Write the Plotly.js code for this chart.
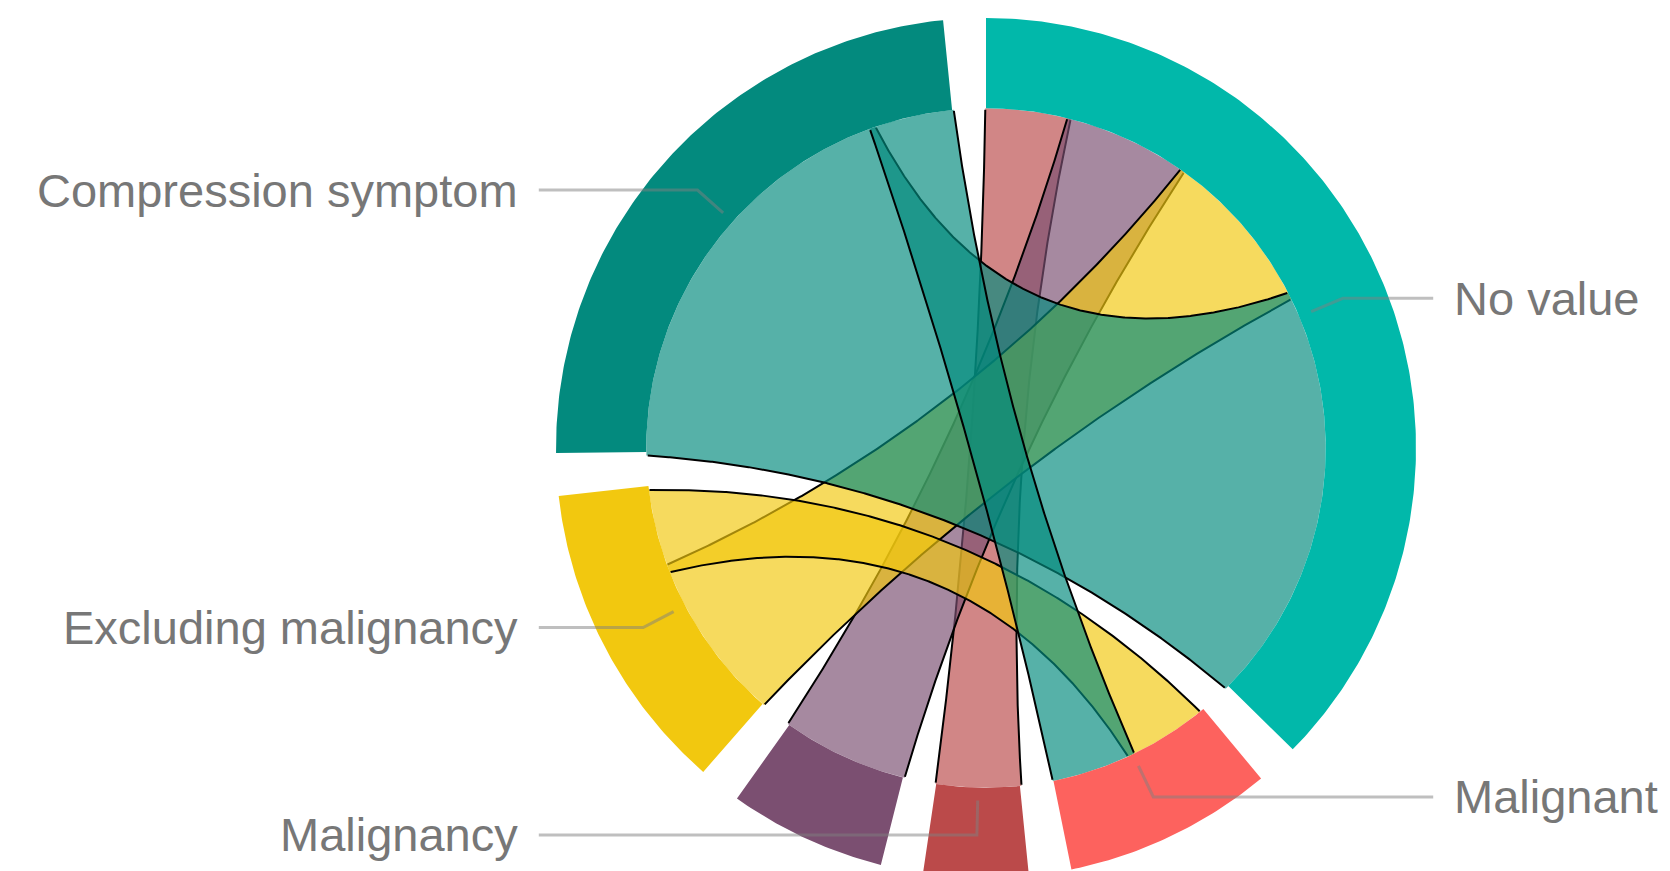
<!DOCTYPE html>
<html><head><meta charset="utf-8">
<script src="https://cdn.plot.ly/plotly-3.0.1.min.js"></script>
<style>html,body{margin:0;padding:0;background:#fff;overflow:hidden}#chart{width:1670px;height:871px}</style>
</head><body><div id="chart"></div>
<script>
// ---- data ----
const nodes = ["No value", "Malignant", "Malignancy", "Other", "Excluding malignancy", "Compression symptom"];
const linkSources = ["Malignancy", "Other", "Excluding malignancy", "Excluding malignancy", "Compression symptom", "Compression symptom"];
const linkTargets = ["No value", "No value", "No value", "Malignant", "No value", "Malignant"];
const linkValues = [4, 6, 8, 4, 20, 4];

// ---- styles ----
const palette = ["#01B8AA", "#FD625E", "#BB4A4A", "#7B4F71", "#F2C80F", "#038A7E"];
const RIBBON_OPACITY = 0.67;
const R_OUT = 1, R_IN = 0.79, PAD = 0.1;
const LABEL_FONT = 47;
const PX = 430, CX = 986, CY = 448, W = 1670, H = 871;

function hexToRgba(h, a) {
  const r = parseInt(h.slice(1,3),16), g = parseInt(h.slice(3,5),16), b = parseInt(h.slice(5,7),16);
  return `rgba(${r},${g},${b},${a})`;
}
const pt = (r, a) => [r * Math.sin(a), r * Math.cos(a)];
const ang = p => Math.atan2(p[0], p[1]);
function arc(r, a0, a1) {
  const n = Math.max(2, Math.ceil(Math.abs(a1 - a0) / 0.01));
  const out = [];
  for (let k = 0; k <= n; k++) out.push(pt(r, a0 + (a1 - a0) * k / n));
  return out;
}
// quadratic curve through the centre between two points of the outer circle,
// keeping only the part that lies inside the inner circle
function bezInside(A, B) {
  const out = [];
  const N = 600;
  for (let k = 0; k <= N; k++) {
    const t = k / N, u = 1 - t;
    const p = [u*u*A[0] + t*t*B[0], u*u*A[1] + t*t*B[1]];
    if (Math.hypot(p[0], p[1]) <= R_IN) out.push(p);
  }
  return out;
}
function unwrap(a0, a1) {
  let d = a1 - a0;
  while (d > Math.PI) d -= 2 * Math.PI;
  while (d < -Math.PI) d += 2 * Math.PI;
  return a0 + d;
}

// ---- chord layout ----
const idx = Object.fromEntries(nodes.map((n, i) => [n, i]));
const n = nodes.length;
const M = Array.from({length: n}, () => Array(n).fill(0));
linkSources.forEach((s, k) => {
  const i = idx[s], j = idx[linkTargets[k]];
  M[i][j] += linkValues[k]; M[j][i] += linkValues[k];
});
const groupVals = M.map(r => r.reduce((a, b) => a + b, 0));
const total = groupVals.reduce((a, b) => a + b, 0);
const kScale = (2 * Math.PI - PAD * n) / total;
const groups = [], sub = {};
let cur = 0;
for (let i = 0; i < n; i++) {
  const gs = cur;
  for (let j = 0; j < n; j++) {
    sub[i + '-' + j] = [cur, cur + M[i][j] * kScale];
    cur += M[i][j] * kScale;
  }
  groups.push([gs, cur]);
  cur += PAD;
}

const traces = [];
// ribbons
linkSources.forEach((s, k) => {
  const i = idx[s], j = idx[linkTargets[k]];
  const [s0, s1] = sub[i + '-' + j];
  const [t0, t1] = sub[j + '-' + i];
  const c1 = bezInside(pt(R_OUT, s1), pt(R_OUT, t0));
  const c2 = bezInside(pt(R_OUT, t1), pt(R_OUT, s0));
  const aS0 = ang(c2[c2.length - 1]), aS1 = unwrap(aS0, ang(c1[0]));
  const aT0 = ang(c1[c1.length - 1]), aT1 = unwrap(aT0, ang(c2[0]));
  const path = [...arc(R_IN, aS0, aS1), ...c1, ...arc(R_IN, aT0, aT1), ...c2];
  traces.push({type: 'scatter', mode: 'lines', x: path.map(p => p[0]), y: path.map(p => p[1]),
    fill: 'toself', fillcolor: hexToRgba(palette[i], RIBBON_OPACITY),
    line: {width: 0, color: 'rgba(0,0,0,0)'}, hoverinfo: 'skip', showlegend: false});
  const sx = [...c1.map(p => p[0]), null, ...c2.map(p => p[0])];
  const sy = [...c1.map(p => p[1]), null, ...c2.map(p => p[1])];
  traces.push({type: 'scatter', mode: 'lines', x: sx, y: sy, line: {width: 2, color: '#000'},
    hoverinfo: 'skip', showlegend: false});
});
// ring segments
groups.forEach(([a0, a1], i) => {
  const path = [...arc(R_OUT, a0, a1), ...arc(R_IN, a1, a0)];
  traces.push({type: 'scatter', mode: 'lines', x: path.map(p => p[0]), y: path.map(p => p[1]),
    fill: 'toself', fillcolor: palette[i], line: {width: 0, color: 'rgba(0,0,0,0)'},
    hoverinfo: 'skip', showlegend: false});
});
// labels with leader lines (labels that would collide are hidden)
const annotations = [];
const shown = {left: [], right: []};
groups.forEach(([a0, a1], i) => {
  const mid = (a0 + a1) / 2;
  const side = Math.sin(mid) >= 0 ? 1 : -1;
  const key = side > 0 ? 'right' : 'left';
  const p0 = pt(0.82, mid), p1 = pt(0.9, mid);
  const yl = p1[1];
  if (shown[key].some(y => Math.abs(y - yl) < LABEL_FONT / PX)) return;
  shown[key].push(yl);
  traces.push({type: 'scatter', mode: 'lines', x: [p0[0], p1[0], side * 1.04], y: [p0[1], p1[1], p1[1]],
    line: {width: 3, color: 'rgba(128,128,128,0.5)'}, hoverinfo: 'skip', showlegend: false});
  annotations.push({x: side * 1.083, y: yl, text: nodes[i], showarrow: false,
    xanchor: side > 0 ? 'left' : 'right', yanchor: 'middle',
    font: {size: LABEL_FONT, color: '#777777', family: 'Liberation Sans, Arial, sans-serif'}});
});

const layout = {
  width: W, height: H, margin: {l: 0, r: 0, t: 0, b: 0},
  paper_bgcolor: '#fff', plot_bgcolor: '#fff', showlegend: false,
  xaxis: {range: [-CX / PX, (W - CX) / PX], visible: false, fixedrange: true},
  yaxis: {range: [-(H - CY) / PX, CY / PX], visible: false, fixedrange: true},
  annotations: annotations
};
Plotly.newPlot('chart', traces, layout, {displayModeBar: false, staticPlot: true});
</script>
</body></html>
